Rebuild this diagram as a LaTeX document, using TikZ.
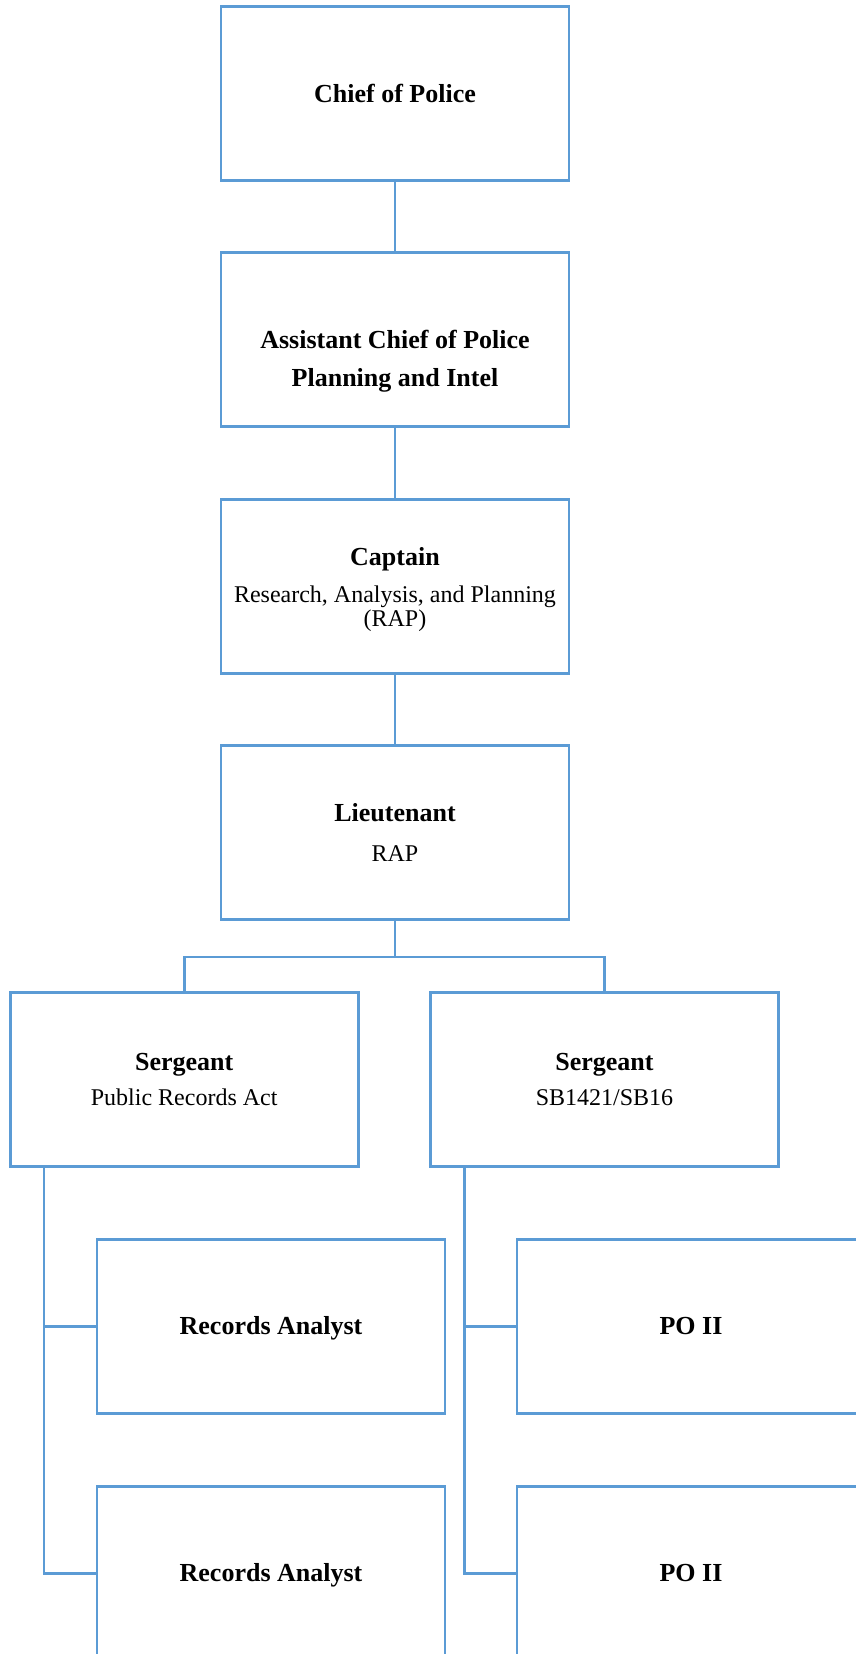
\documentclass[tikz,border=0pt]{standalone}
\usepackage{fontspec}
\setmainfont{Liberation Serif}
\definecolor{orgblue}{HTML}{5B9BD5}
\begin{document}
\begin{tikzpicture}[x=1pt,y=-1pt,
  box/.style={draw=orgblue,line width=2.7pt,minimum width=348pt,minimum height=174pt,inner sep=0pt,fill=white},
  conn/.style={draw=orgblue,line width=2.7pt},
  ttl/.style={anchor=base,inner sep=0pt,font=\fontsize{26}{30}\selectfont\bfseries},
  sub/.style={anchor=base,inner sep=0pt,font=\fontsize{24}{28}\selectfont}]
\useasboundingbox (0,0) rectangle (856,1654);
% boxes
\node[box] (chief) at (395,93.5) {};
\node[box] (asst) at (395,339.5) {};
\node[box] (cap) at (395,586.5) {};
\node[box] (lt) at (395,832.5) {};
\node[box] (sgtL) at (184.2,1079.5) {};
\node[box] (sgtR) at (604.5,1079.5) {};
\node[box] (ra1) at (271,1326.5) {};
\node[box] (po1) at (691,1326.5) {};
\node[box] (ra2) at (271,1573.5) {};
\node[box] (po2) at (691,1573.5) {};
% connectors
\draw[conn] (chief.south) -- (asst.north);
\draw[conn] (asst.south) -- (cap.north);
\draw[conn] (cap.south) -- (lt.north);
\coordinate (bus) at (395,957);
\draw[conn] (lt.south) -- (bus) -| (sgtL.north);
\draw[conn] (bus) -| (sgtR.north);
\coordinate (tL) at ([xshift=35pt]sgtL.south west);
\coordinate (tR) at ([xshift=35pt]sgtR.south west);
\draw[conn] (tL) |- (ra2.west);
\draw[conn] (tL |- ra1.west) -- (ra1.west);
\draw[conn] (tR) |- (po2.west);
\draw[conn] (tR |- po1.west) -- (po1.west);
% texts
\node[ttl] (chiefT) at (395,102) {Chief of Police};
\node[ttl] (asstT1) at (395,348) {Assistant Chief of Police};
\node[ttl] (asstT2) at (395,386.5) {Planning and Intel};
\node[ttl] (capT) at (395,565) {Captain};
\node[sub] (capS1) at (395,602.5) {Research, Analysis, and Planning};
\node[sub] (capS2) at (395,626) {(RAP)};
\node[ttl] (ltT) at (395,821.5) {Lieutenant};
\node[sub] (ltS) at (395,861) {RAP};
\node[ttl] (sgtLT) at (184.2,1070) {Sergeant};
\node[sub] (sgtLS) at (184.2,1105) {Public Records Act};
\node[ttl] (sgtRT) at (604.5,1070) {Sergeant};
\node[sub] (sgtRS) at (604.5,1105) {SB1421/SB16};
\node[ttl] (ra1T) at (271,1334.5) {Records Analyst};
\node[ttl] (po1T) at (691,1334.5) {PO II};
\node[ttl] (ra2T) at (271,1581) {Records Analyst};
\node[ttl] (po2T) at (691,1581) {PO II};
\end{tikzpicture}
\end{document}
